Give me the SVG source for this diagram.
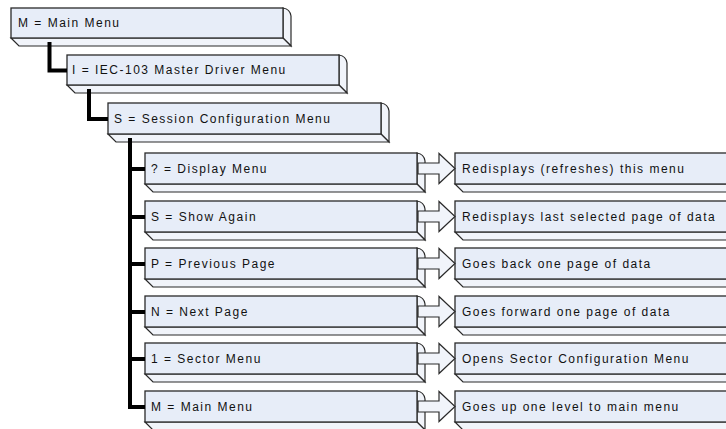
<svg xmlns="http://www.w3.org/2000/svg" xmlns:xlink="http://www.w3.org/1999/xlink" width="726" height="429" viewBox="0 0 726 429">
<style>
.f{fill:#E7EDF8;stroke:#2a2a2a;stroke-width:1.3;stroke-linejoin:miter}
.s{fill:#F1F4FA;stroke:#2a2a2a;stroke-width:1.2;stroke-linejoin:miter}
.t{font-family:"Liberation Sans",Arial,sans-serif;font-size:12px;letter-spacing:1.5px;fill:#111}
.c{fill:none;stroke:#000;stroke-width:4;stroke-linejoin:miter}
</style>
<defs>
<g id="cbox">
<path class="s" d="M417,0 Q424,1 425,8 L425,39 L417,31 Z"/>
<path class="s" d="M145,31 L417,31 L425,39 L153,39 Z"/>
<rect class="f" x="145" y="0" width="272" height="31"/>
</g>
<g id="rbox">
<path class="s" d="M455,31 L745,31 L753,39 L463,39 Z"/>
<rect class="f" x="455" y="0" width="290" height="31"/>
</g>
<path id="arr" class="s" d="M418,10 L439,10 L439,0.5 L455,15.5 L439,30.5 L439,21 L418,21 Z"/>
</defs>

<g id="n-main">
<path class="s" d="M283,8 Q290,9 291,16 L291,46 L283,38 Z"/>
<path class="s" d="M11,38 L283,38 L291,46 L19,46 Z"/>
<rect class="f" x="11" y="8" width="272" height="30"/>
<text class="t" x="18" y="27">M = Main Menu</text>
</g>
<g id="n-iec">
<path class="s" d="M339,55 Q346,56 347,63 L347,93 L339,85 Z"/>
<path class="s" d="M67,85 L339,85 L347,93 L75,93 Z"/>
<rect class="f" x="67" y="55" width="272" height="30"/>
<text class="t" x="72" y="74">I = IEC-103 Master Driver Menu</text>
</g>
<g id="n-session">
<path class="s" d="M381,103 Q388,104 389,111 L389,142 L381,134 Z"/>
<path class="s" d="M108,134 L381,134 L389,142 L116,142 Z"/>
<rect class="f" x="108" y="103" width="273" height="31"/>
<text class="t" x="114" y="123">S = Session Configuration Menu</text>
</g>

<g id="n-display" transform="translate(0,153)"><use xlink:href="#cbox"/><text class="t" x="151" y="20">? = Display Menu</text></g>
<g id="n-show" transform="translate(0,201)"><use xlink:href="#cbox"/><text class="t" x="151" y="20">S = Show Again</text></g>
<g id="n-prev" transform="translate(0,248)"><use xlink:href="#cbox"/><text class="t" x="151" y="20">P = Previous Page</text></g>
<g id="n-next" transform="translate(0,296)"><use xlink:href="#cbox"/><text class="t" x="151" y="20">N = Next Page</text></g>
<g id="n-sector" transform="translate(0,343)"><use xlink:href="#cbox"/><text class="t" x="151" y="20">1 = Sector Menu</text></g>
<g id="n-mainmenu" transform="translate(0,391)"><use xlink:href="#cbox"/><text class="t" x="151" y="20">M = Main Menu</text></g>

<g id="d-display" transform="translate(0,153)"><use xlink:href="#rbox"/><text class="t" x="462" y="20">Redisplays (refreshes) this menu</text></g>
<g id="d-show" transform="translate(0,201)"><use xlink:href="#rbox"/><text class="t" x="462" y="20">Redisplays last selected page of data</text></g>
<g id="d-prev" transform="translate(0,248)"><use xlink:href="#rbox"/><text class="t" x="462" y="20">Goes back one page of data</text></g>
<g id="d-next" transform="translate(0,296)"><use xlink:href="#rbox"/><text class="t" x="462" y="20">Goes forward one page of data</text></g>
<g id="d-sector" transform="translate(0,343)"><use xlink:href="#rbox"/><text class="t" x="462" y="20">Opens Sector Configuration Menu</text></g>
<g id="d-mainmenu" transform="translate(0,391)"><use xlink:href="#rbox"/><text class="t" x="462" y="20">Goes up one level to main menu</text></g>

<g id="connectors">
<path class="c" d="M49.5,42 V70.5 H67"/>
<path class="c" d="M89,89 V119 H108"/>
<path class="c" d="M130,138 V409 M130,169 H145 M130,217 H145 M130,264 H145 M130,312 H145 M130,359 H145 M130,407 H145"/>
<use xlink:href="#arr" transform="translate(0,153)"/>
<use xlink:href="#arr" transform="translate(0,201)"/>
<use xlink:href="#arr" transform="translate(0,248)"/>
<use xlink:href="#arr" transform="translate(0,296)"/>
<use xlink:href="#arr" transform="translate(0,343)"/>
<use xlink:href="#arr" transform="translate(0,391)"/>
</g>
</svg>
